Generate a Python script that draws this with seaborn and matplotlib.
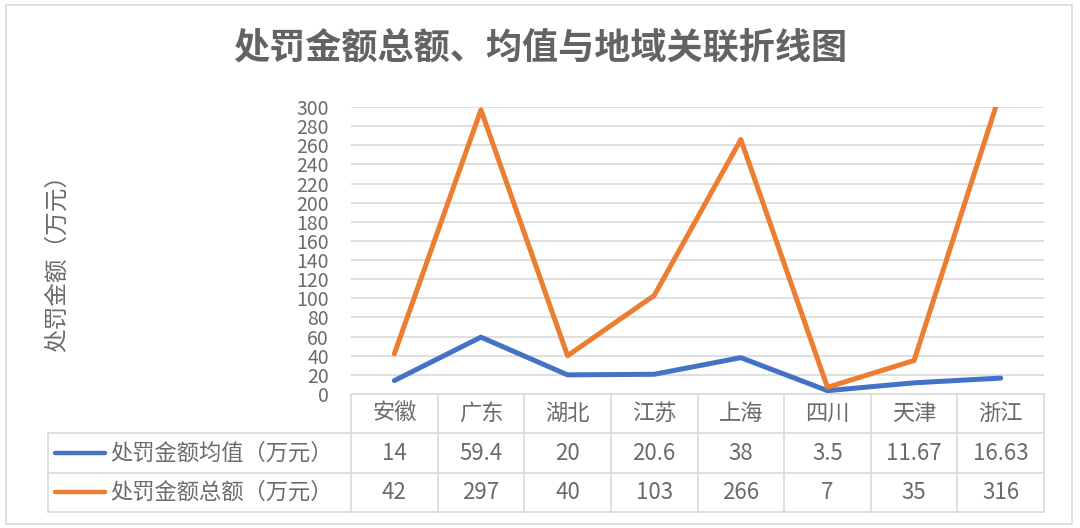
import pandas as pd
import numpy as np
import matplotlib.pyplot as plt
import matplotlib.patches as mpatches
import seaborn as sns

sns.set_theme(style="white")
plt.rcParams['font.family'] = ['Noto Sans CJK SC', 'DejaVu Sans']

# data
regions = ['安徽', '广东', '湖北', '江苏', '上海', '四川', '天津', '浙江']
mean_vals = [14, 59.4, 20, 20.6, 38, 3.5, 11.67, 16.63]
total_vals = [42, 297, 40, 103, 266, 7, 35, 316]
mean_labels = ['14', '59.4', '20', '20.6', '38', '3.5', '11.67', '16.63']
total_labels = ['42', '297', '40', '103', '266', '7', '35', '316']
series_names = ['处罚金额均值（万元）', '处罚金额总额（万元）']
colors = ['#4472C4', '#ED7D31']

df = pd.DataFrame({
    '地区': regions * 2,
    '金额': mean_vals + total_vals,
    '系列': [series_names[0]] * len(regions) + [series_names[1]] * len(regions),
})

text_color = '#6b6b6b'
grid_color = '#d9d9d9'
W, H = 1080, 528

fig = plt.figure(figsize=(W / 100, H / 100), dpi=100)

# outer frame
fig.patches.append(mpatches.Rectangle((6 / W, 1 - 524 / H), (1072 - 6) / W, (524 - 5) / H,
                                      transform=fig.transFigure, fill=False,
                                      edgecolor=grid_color, lw=1.2))

x0, x1 = 351, 1044
ax = fig.add_axes([x0 / W, 1 - 394 / H, (x1 - x0) / W, (394 - 107) / H])
sns.lineplot(data=df, x='地区', y='金额', hue='系列', palette=colors, sort=False,
             lw=3.6, legend=False, ax=ax, solid_capstyle='round')
ax.set_xlim(-0.5, len(regions) - 0.5)
ax.set_ylim(0, 300)
ax.set_yticks(np.arange(0, 301, 20))
ax.tick_params(axis='y', labelsize=14, labelcolor=text_color, length=0, pad=16)
ax.set_xticks([])
ax.set_xlabel('')
ax.set_ylabel('')
ax.yaxis.grid(True, color=grid_color, lw=1.2)
ax.set_axisbelow(True)
for s in ax.spines.values():
    s.set_visible(False)

fig.text(57 / W, 1 - 258 / H, '处罚金额（万元）', rotation=90, ha='center', va='center',
         fontsize=17, color=text_color)
fig.text(540 / W, 1 - 48 / H, '处罚金额总额、均值与地域关联折线图', ha='center', va='center',
         fontsize=26, fontweight='bold', color='#636363')

# data table under the plot
tax = fig.add_axes([x0 / W, 1 - 512 / H, (x1 - x0) / W, (512 - 394) / H])
tax.set_xlim(-0.5, len(regions) - 0.5)
tax.set_ylim(3, 0)
tax.axis('off')
col_w = (x1 - x0) / len(regions)
left = -0.5 - (x0 - 48) / col_w
lk = dict(color=grid_color, lw=1.2, clip_on=False)
tax.plot([-0.5, len(regions) - 0.5], [0, 0], **lk)
for r in [1, 2, 3]:
    tax.plot([left, len(regions) - 0.5], [r, r], **lk)
tax.plot([left, left], [1, 3], **lk)
for i in range(len(regions) + 1):
    tax.plot([i - 0.5, i - 0.5], [0, 3], **lk)

fs = 16
for i, name in enumerate(regions):
    tax.text(i, 0.5, name, ha='center', va='center', fontsize=fs, color=text_color)
    tax.text(i, 1.5, mean_labels[i], ha='center', va='center', fontsize=fs, color=text_color)
    tax.text(i, 2.5, total_labels[i], ha='center', va='center', fontsize=fs, color=text_color)

leg_x0 = left + 7 / col_w
leg_x1 = left + 57 / col_w
for r, (name, c) in enumerate(zip(series_names, colors)):
    tax.plot([leg_x0, leg_x1], [r + 1.5, r + 1.5], color=c, lw=3.2,
             solid_capstyle='round', clip_on=False)
    tax.text(leg_x1 + 5 / col_w, r + 1.5, name, ha='left', va='center',
             fontsize=fs, color=text_color)

plt.savefig('out.png', dpi=100)
